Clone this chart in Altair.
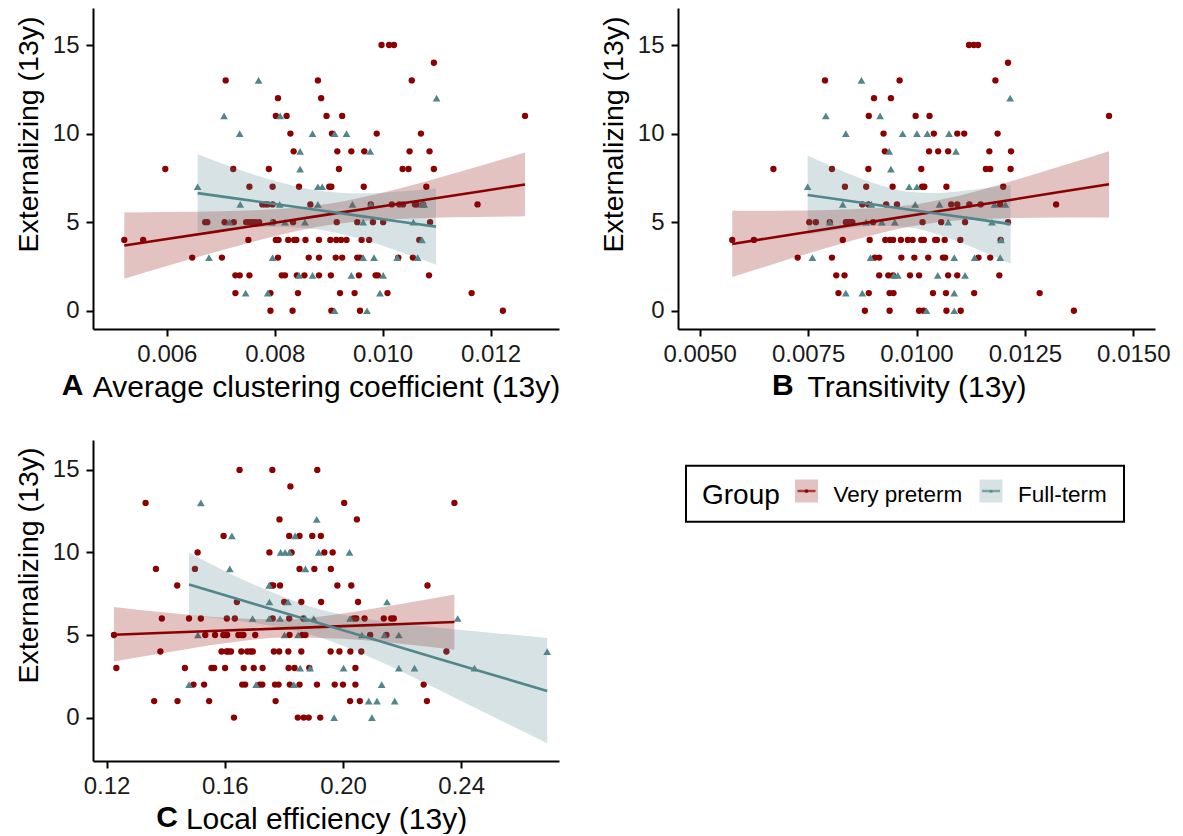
import altair as alt
import pandas as pd

GROUPS = ["Very preterm", "Full-term"]
COLORS = ["#8B0000", "#53868B"]
SHAPES = ["circle", "triangle-up"]
FONT = "Liberation Sans"
YTITLE = "Externalizing (13y)"

# ---------------- Panel A: Average clustering coefficient ----------------
A_VP = [
    (0.00998, 15), (0.01012, 15), (0.01021, 15),
    (0.01095, 14),
    (0.00709, 13), (0.00880, 13), (0.01054, 13),
    (0.00806, 12), (0.00886, 12),
    (0.00802, 11), (0.00822, 11), (0.00896, 11), (0.00925, 11), (0.01264, 11),
    (0.00829, 10), (0.00906, 10), (0.00989, 10), (0.01071, 10),
    (0.00835, 9), (0.00916, 9), (0.00942, 9), (0.00966, 9), (0.01050, 9), (0.01087, 9),
    (0.00597, 8), (0.00723, 8), (0.00789, 8), (0.00919, 8), (0.01037, 8), (0.01048, 8), (0.01095, 8),
    (0.00753, 7), (0.00796, 7), (0.00845, 7), (0.00901, 7), (0.00905, 7), (0.00965, 7), (0.01081, 7),
    (0.00777, 6), (0.00782, 6), (0.00787, 6), (0.00796, 6), (0.00866, 6), (0.00978, 6), (0.01017, 6),
    (0.01031, 6), (0.01038, 6), (0.01060, 6), (0.01063, 6), (0.01075, 6), (0.01176, 6),
    (0.00671, 5), (0.00675, 5), (0.00707, 5), (0.00724, 5), (0.00747, 5), (0.00753, 5), (0.00758, 5),
    (0.00764, 5), (0.00771, 5), (0.00797, 5), (0.00834, 5), (0.00915, 5), (0.00953, 5), (0.00982, 5),
    (0.01001, 5), (0.01088, 5),
    (0.00521, 4), (0.00556, 4), (0.00751, 4), (0.00802, 4), (0.00807, 4), (0.00825, 4), (0.00836, 4),
    (0.00840, 4), (0.00857, 4), (0.00882, 4), (0.00903, 4), (0.00914, 4), (0.00923, 4), (0.00933, 4),
    (0.00961, 4), (0.00975, 4), (0.01068, 4),
    (0.00647, 3), (0.00702, 3), (0.00806, 3), (0.00863, 3), (0.00882, 3), (0.00913, 3), (0.00925, 3),
    (0.00953, 3), (0.00958, 3), (0.01029, 3), (0.01056, 3),
    (0.00727, 2), (0.00735, 2), (0.00753, 2), (0.00813, 2), (0.00819, 2), (0.00841, 2), (0.00855, 2),
    (0.00882, 2), (0.00904, 2), (0.00956, 2), (0.00987, 2), (0.00991, 2), (0.01086, 2),
    (0.00727, 1), (0.00792, 1), (0.00843, 1), (0.00921, 1), (0.00948, 1), (0.01009, 1), (0.01165, 1),
    (0.00792, 0), (0.00833, 0), (0.00905, 0), (0.00958, 0), (0.01223, 0),
]
A_FT = [
    (0.00770, 13), (0.01100, 12), (0.00706, 11), (0.00810, 11),
    (0.00735, 10), (0.00870, 10), (0.00911, 10), (0.00933, 10),
    (0.00847, 9), (0.00977, 9), (0.00847, 8),
    (0.00657, 7), (0.00880, 7), (0.00888, 7),
    (0.00736, 6), (0.00809, 6), (0.00880, 6), (0.00944, 6), (0.00978, 6), (0.01073, 6), (0.01077, 6),
    (0.00716, 5), (0.00794, 5), (0.00819, 5), (0.00856, 5), (0.00964, 5), (0.01057, 5),
    (0.01073, 4),
    (0.00678, 3), (0.00796, 3), (0.00964, 3), (0.00984, 3), (0.01027, 3), (0.01065, 3),
    (0.00845, 2), (0.00870, 2), (0.00942, 2), (0.01001, 2),
    (0.00746, 1), (0.00787, 1), (0.00995, 1),
    (0.00911, 0), (0.00971, 0),
]
A_VP_BX = [0.00521, 0.0060, 0.0070, 0.0080, 0.0090, 0.0100, 0.0108, 0.0118, 0.01264]
A_VP_FIT = [3.68, 4.05, 4.51, 4.97, 5.44, 5.90, 6.27, 6.73, 7.13]
A_VP_LO = [1.81, 2.53, 3.40, 4.21, 4.84, 5.14, 5.24, 5.29, 5.33]
A_VP_HI = [5.55, 5.57, 5.62, 5.73, 6.04, 6.66, 7.30, 8.17, 8.93]
A_FT_BX = [0.00657, 0.0072, 0.0080, 0.0088, 0.0096, 0.0104, 0.01099]
A_FT_FIT = [6.64, 6.37, 6.03, 5.69, 5.34, 5.00, 4.75]
A_FT_LO = [4.45, 4.62, 4.74, 4.59, 4.05, 3.25, 2.59]
A_FT_HI = [8.83, 8.12, 7.32, 6.79, 6.63, 6.75, 6.91]

# ---------------- Panel B: Transitivity ----------------
B_VP = [
    (0.01121, 15), (0.01132, 15), (0.01142, 15),
    (0.01211, 14),
    (0.00789, 13), (0.00961, 13), (0.01182, 13),
    (0.00902, 12), (0.00941, 12),
    (0.00890, 11), (0.00998, 11), (0.01030, 11), (0.01444, 11),
    (0.00924, 10), (0.01040, 10), (0.01094, 10), (0.01110, 10), (0.01187, 10),
    (0.00927, 9), (0.01029, 9), (0.01050, 9), (0.01073, 9), (0.01168, 9), (0.01218, 9),
    (0.00670, 8), (0.00805, 8), (0.00889, 8), (0.01011, 8), (0.01160, 8), (0.01170, 8), (0.01217, 8),
    (0.00835, 7), (0.00884, 7), (0.00945, 7), (0.01013, 7), (0.01018, 7), (0.01069, 7), (0.01200, 7),
    (0.00875, 6), (0.00889, 6), (0.00930, 6), (0.00955, 6), (0.01080, 6), (0.01094, 6), (0.01122, 6),
    (0.01148, 6), (0.01193, 6), (0.01322, 6),
    (0.00753, 5), (0.00768, 5), (0.00800, 5), (0.00837, 5), (0.00842, 5), (0.00847, 5), (0.00852, 5),
    (0.00900, 5), (0.01014, 5), (0.01057, 5), (0.01112, 5), (0.01211, 5),
    (0.00575, 4), (0.00625, 4), (0.00830, 4), (0.00892, 4), (0.00928, 4), (0.00939, 4), (0.00946, 4),
    (0.00964, 4), (0.00980, 4), (0.00991, 4), (0.01011, 4), (0.01017, 4), (0.01043, 4), (0.01047, 4),
    (0.01065, 4), (0.01101, 4), (0.01194, 4),
    (0.00726, 3), (0.00805, 3), (0.00904, 3), (0.00914, 3), (0.00965, 3), (0.00995, 3), (0.01027, 3),
    (0.01061, 3), (0.01066, 3), (0.01143, 3), (0.01170, 3),
    (0.00815, 2), (0.00834, 2), (0.00914, 2), (0.00935, 2), (0.00946, 2), (0.00985, 2), (0.01006, 2),
    (0.01073, 2), (0.01094, 2), (0.01191, 2),
    (0.00820, 1), (0.00890, 1), (0.00938, 1), (0.00947, 1), (0.01038, 1), (0.01068, 1), (0.01133, 1),
    (0.01284, 1),
    (0.00881, 0), (0.00938, 0), (0.01006, 0), (0.01016, 0), (0.01069, 0), (0.01102, 0), (0.01363, 0),
]
B_FT = [
    (0.00873, 13), (0.01216, 12), (0.00791, 11), (0.00916, 11),
    (0.00837, 10), (0.00968, 10), (0.01001, 10), (0.01025, 10), (0.01075, 10),
    (0.00937, 9), (0.01091, 9), (0.00941, 8),
    (0.00749, 7), (0.00983, 7), (0.01001, 7),
    (0.00830, 6), (0.00896, 6), (0.00997, 6), (0.01053, 6), (0.01180, 6), (0.01205, 6),
    (0.00800, 5), (0.00884, 5), (0.00920, 5), (0.00950, 5), (0.01073, 5), (0.01174, 5),
    (0.01195, 4),
    (0.00760, 3), (0.00894, 3), (0.01087, 3), (0.01134, 3), (0.01193, 3),
    (0.00948, 2), (0.00957, 2), (0.01049, 2), (0.01112, 2),
    (0.00837, 1), (0.00875, 1), (0.01087, 1),
    (0.01023, 0), (0.01087, 0),
]
B_VP_BX = [0.00575, 0.0068, 0.0080, 0.0090, 0.0101, 0.0112, 0.0122, 0.0133, 0.01444]
B_VP_FIT = [3.77, 4.18, 4.64, 5.03, 5.46, 5.88, 6.27, 6.70, 7.14]
B_VP_LO = [1.90, 2.71, 3.60, 4.28, 4.86, 5.13, 5.23, 5.27, 5.27]
B_VP_HI = [5.64, 5.65, 5.69, 5.78, 6.06, 6.63, 7.32, 8.14, 9.01]
B_FT_BX = [0.00749, 0.0083, 0.0091, 0.0098, 0.0105, 0.0113, 0.01217]
B_FT_FIT = [6.53, 6.25, 5.97, 5.72, 5.48, 5.20, 4.89]
B_FT_LO = [4.31, 4.62, 4.80, 4.72, 4.31, 3.57, 2.65]
B_FT_HI = [8.76, 7.88, 7.14, 6.72, 6.65, 6.83, 7.10]

# ---------------- Panel C: Local efficiency ----------------
C_VP = [
    (0.1650, 15), (0.1761, 15), (0.1913, 15),
    (0.1822, 14),
    (0.1332, 13), (0.2004, 13), (0.2377, 13),
    (0.1785, 12), (0.2047, 12),
    (0.1596, 11), (0.1818, 11), (0.1853, 11), (0.1896, 11), (0.1925, 11),
    (0.1508, 10), (0.1751, 10), (0.1826, 10), (0.1937, 10), (0.1965, 10),
    (0.1367, 9), (0.1499, 9), (0.1853, 9), (0.1903, 9), (0.1959, 9),
    (0.1439, 8), (0.1757, 8), (0.1764, 8), (0.1787, 8), (0.1981, 8), (0.2028, 8), (0.2286, 8),
    (0.1641, 7), (0.1801, 7), (0.1859, 7), (0.1926, 7), (0.2051, 7),
    (0.1387, 6), (0.1479, 6), (0.1519, 6), (0.1607, 6), (0.1634, 6), (0.1762, 6), (0.1818, 6),
    (0.1866, 6), (0.2037, 6), (0.2045, 6), (0.2073, 6), (0.2138, 6), (0.2163, 6), (0.2172, 6),
    (0.1225, 5), (0.1534, 5), (0.1567, 5), (0.1595, 5), (0.1604, 5), (0.1608, 5), (0.1646, 5),
    (0.1657, 5), (0.1663, 5), (0.1703, 5), (0.1819, 5), (0.1862, 5), (0.1873, 5), (0.2092, 5),
    (0.2147, 5),
    (0.1382, 4), (0.1589, 4), (0.1606, 4), (0.1612, 4), (0.1621, 4), (0.1656, 4), (0.1676, 4),
    (0.1687, 4), (0.1695, 4), (0.1766, 4), (0.1784, 4), (0.1815, 4), (0.1859, 4), (0.1958, 4),
    (0.1988, 4), (0.2025, 4), (0.2062, 4), (0.2350, 4),
    (0.1233, 3), (0.1465, 3), (0.1555, 3), (0.1564, 3), (0.1601, 3), (0.1664, 3), (0.1698, 3),
    (0.1728, 3), (0.1816, 3), (0.1836, 3), (0.1886, 3), (0.2042, 3),
    (0.1494, 2), (0.1530, 2), (0.1659, 2), (0.1669, 2), (0.1718, 2), (0.1727, 2), (0.1770, 2),
    (0.1782, 2), (0.1820, 2), (0.1853, 2), (0.1912, 2), (0.1972, 2), (0.2000, 2), (0.2042, 2),
    (0.2273, 2),
    (0.1361, 1), (0.1440, 1), (0.1547, 1), (0.1772, 1), (0.2024, 1), (0.2057, 1), (0.2284, 1),
    (0.1631, 0), (0.1847, 0), (0.1867, 0), (0.1884, 0), (0.1923, 0),
]
C_FT = [
    (0.1519, 13), (0.1911, 12), (0.1624, 11), (0.1838, 11),
    (0.1789, 10), (0.1804, 10), (0.1819, 10), (0.1918, 10), (0.2022, 10),
    (0.1617, 9), (0.1873, 9), (0.1750, 8),
    (0.1751, 7), (0.1814, 7), (0.2149, 7),
    (0.1694, 6), (0.1750, 6), (0.1787, 6), (0.1873, 6), (0.1901, 6), (0.2024, 6), (0.2388, 6),
    (0.1509, 5), (0.1802, 5), (0.1848, 5), (0.2064, 5), (0.2140, 5), (0.2189, 5),
    (0.2691, 4),
    (0.1855, 3), (0.1889, 3), (0.2002, 3), (0.2189, 3), (0.2242, 3), (0.2445, 3),
    (0.1479, 2), (0.1706, 2), (0.1834, 2), (0.2131, 2),
    (0.2087, 1), (0.2115, 1), (0.2175, 1),
    (0.1970, 0), (0.2098, 0),
]
C_VP_BX = [0.1225, 0.14, 0.16, 0.18, 0.20, 0.22, 0.2377]
C_VP_FIT = [5.02, 5.14, 5.27, 5.40, 5.54, 5.67, 5.79]
C_VP_LO = [3.40, 3.93, 4.50, 4.85, 4.77, 4.46, 4.10]
C_VP_HI = [6.70, 6.36, 6.04, 5.95, 6.31, 6.89, 7.45]
C_FT_BX = [0.1479, 0.17, 0.19, 0.21, 0.23, 0.25, 0.2691]
C_FT_FIT = [8.06, 6.88, 5.82, 4.76, 3.69, 2.63, 1.61]
C_FT_LO = [6.20, 5.72, 4.97, 3.60, 1.90, 0.12, -1.55]
C_FT_HI = [9.98, 8.04, 6.67, 5.92, 5.48, 5.14, 4.82]

Y_TICKS = [0, 5, 10, 15]

color_scale = alt.Scale(domain=GROUPS, range=COLORS)
shape_scale = alt.Scale(domain=GROUPS, range=SHAPES)


def points_df(vp, ft):
    rows = [{"x": x, "y": y, "group": GROUPS[0]} for x, y in vp]
    rows += [{"x": x, "y": y, "group": GROUPS[1]} for x, y in ft]
    return pd.DataFrame(rows)


def band_df(vp_bx, vp_fit, vp_lo, vp_hi, ft_bx, ft_fit, ft_lo, ft_hi):
    a = pd.DataFrame({"x": vp_bx, "fit": vp_fit, "lo": vp_lo, "hi": vp_hi, "group": GROUPS[0]})
    b = pd.DataFrame({"x": ft_bx, "fit": ft_fit, "lo": ft_lo, "hi": ft_hi, "group": GROUPS[1]})
    return pd.concat([a, b], ignore_index=True)


def panel(pts, bands, xdom, xticks, xfmt, width, height, ydom, xtitle, letter, letter_x,
          ytitle_y):
    xenc = alt.X(
        "x:Q",
        scale=alt.Scale(domain=xdom, nice=False, zero=False),
        axis=alt.Axis(values=xticks, format=xfmt, title=xtitle, labelPadding=6,
                      titlePadding=6, labelFlush=False, labelOverlap=False,
                      titleFontSize=30),
    )
    yscale = alt.Scale(domain=ydom, nice=False, zero=False)
    yaxis = alt.Axis(values=Y_TICKS, format="d", title=YTITLE, labelPadding=7,
                     titlePadding=9, labelFlush=False, labelOverlap=False,
                     titleFontSize=28.5, titleY=ytitle_y)

    pts_layer = alt.Chart(pts).mark_point(filled=True, opacity=1).encode(
        x=xenc,
        y=alt.Y("y:Q", scale=yscale, axis=yaxis),
        color=alt.Color("group:N", scale=color_scale, legend=None),
        shape=alt.Shape("group:N", scale=shape_scale, legend=None),
        size=alt.condition(alt.datum.group == GROUPS[0], alt.value(40), alt.value(60)),
    )
    band_layer = alt.Chart(bands).mark_area(interpolate="monotone", opacity=0.24).encode(
        x=xenc,
        y=alt.Y("lo:Q", scale=yscale, axis=yaxis),
        y2=alt.Y2("hi:Q"),
        color=alt.Color("group:N", scale=color_scale, legend=None),
    )
    line_layer = alt.Chart(bands).mark_line(strokeWidth=2.6).encode(
        x=xenc,
        y=alt.Y("fit:Q", scale=yscale, axis=yaxis),
        color=alt.Color("group:N", scale=color_scale, legend=None),
    )
    letter_layer = alt.Chart(pd.DataFrame({"t": [letter]})).mark_text(
        font=FONT, fontSize=30, fontWeight="bold", align="right", baseline="alphabetic",
        color="black",
    ).encode(x=alt.value(letter_x), y=alt.value(height + 66), text="t:N")
    return alt.layer(pts_layer, band_layer, line_layer, letter_layer).properties(
        width=width, height=height
    )


chart_a = panel(points_df(A_VP, A_FT),
                band_df(A_VP_BX, A_VP_FIT, A_VP_LO, A_VP_HI, A_FT_BX, A_FT_FIT, A_FT_LO, A_FT_HI),
                [0.00463, 0.01327], [0.006, 0.008, 0.010, 0.012], ".3f", 466, 321,
                [-1.03, 17.09], "Average clustering coefficient (13y)", "A", -9.6, 126)
chart_b = panel(points_df(B_VP, B_FT),
                band_df(B_VP_BX, B_VP_FIT, B_VP_LO, B_VP_HI, B_FT_BX, B_FT_FIT, B_FT_LO, B_FT_HI),
                [0.0045, 0.0155], [0.005, 0.0075, 0.010, 0.0125, 0.015], ".4f", 477, 321,
                [-1.03, 17.09], "Transitivity (13y)", "B", 115.6, 126)
chart_c = panel(points_df(C_VP, C_FT),
                band_df(C_VP_BX, C_VP_FIT, C_VP_LO, C_VP_HI, C_FT_BX, C_FT_FIT, C_FT_LO, C_FT_HI),
                [0.1154, 0.2731], [0.12, 0.16, 0.20, 0.24], ".2f", 466, 321,
                [-2.63, 16.81], "Local efficiency (13y)", "C", 85, 125)

# ---------------- Manual legend ----------------
leg_df = pd.DataFrame({"group": GROUPS})
one = pd.DataFrame({"t": ["Group"]})
lx = alt.X("group:N", sort=GROUPS,
           scale=alt.Scale(type="point", domain=GROUPS, range=[121.5, 306], padding=0),
           axis=None)
leg_box = alt.Chart(one).mark_rect(fillOpacity=0, stroke="black", strokeWidth=2).encode(
    x=alt.value(1), x2=alt.value(439), y=alt.value(25.7), y2=alt.value(81.7))
leg_title = alt.Chart(one).mark_text(font=FONT, fontSize=28, align="left",
                                     baseline="alphabetic", color="black").encode(
    x=alt.value(17), y=alt.value(64), text="t:N")
leg_swatch = alt.Chart(leg_df).mark_point(shape="square", filled=True, size=529,
                                          opacity=0.24).encode(
    x=lx, y=alt.value(51), color=alt.Color("group:N", scale=color_scale, legend=None))
leg_line = alt.Chart(leg_df).mark_tick(orient="horizontal", size=18, thickness=2.4).encode(
    x=lx, y=alt.value(51), color=alt.Color("group:N", scale=color_scale, legend=None))
leg_pt = alt.Chart(leg_df).mark_point(filled=True, size=14, opacity=1).encode(
    x=lx, y=alt.value(51),
    color=alt.Color("group:N", scale=color_scale, legend=None),
    shape=alt.Shape("group:N", scale=shape_scale, legend=None))
leg_text = alt.Chart(leg_df).mark_text(font=FONT, fontSize=22.5, align="left",
                                       baseline="alphabetic", dx=27, color="black").encode(
    x=lx, y=alt.value(61.5), text="group:N")
legend_chart = alt.layer(leg_box, leg_title, leg_swatch, leg_line, leg_pt, leg_text).properties(
    width=440, height=90)

row1 = alt.hconcat(chart_a, chart_b, spacing=39)
row2 = alt.hconcat(chart_c, legend_chart, spacing=126)
chart = alt.vconcat(row1, row2, spacing=38).properties(
    padding={"left": 6, "top": 0, "right": 0, "bottom": 0},
    background="white",
).configure_view(stroke=None).configure_axis(
    grid=False,
    domainColor="black", domainWidth=2,
    tickColor="black", tickWidth=2, tickSize=7,
    labelFont=FONT, labelFontSize=24, labelColor="#1a1a1a",
    titleFont=FONT, titleFontWeight="normal", titleColor="black",
).configure_text(font=FONT)

chart.save("out.html", embed_options={"renderer": "svg", "actions": False})
